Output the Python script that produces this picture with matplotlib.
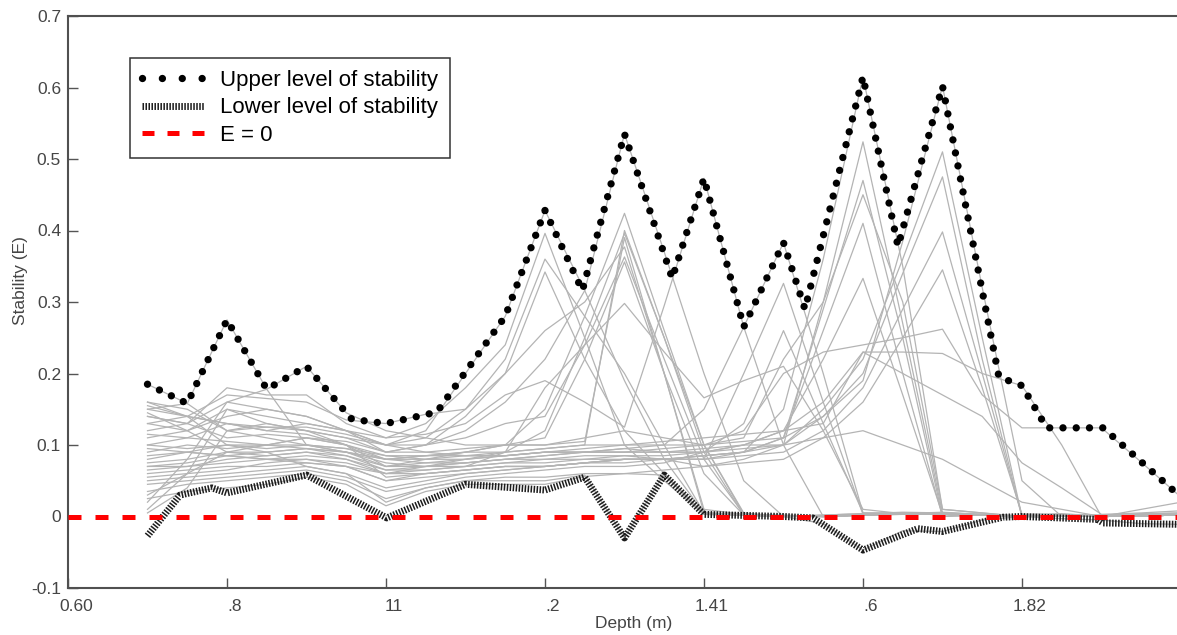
import matplotlib
matplotlib.use("Agg")
import matplotlib.pyplot as plt
from matplotlib.lines import Line2D
from matplotlib.transforms import ScaledTranslation

plt.rcParams['font.family'] = ['Liberation Sans', 'DejaVu Sans']

# Sampling depths of the individual stability profiles (m)
depth = [0.70, 0.75, 0.80, 0.85, 0.90, 0.95, 1.00, 1.05, 1.10, 1.15,
         1.20, 1.25, 1.30, 1.35, 1.40, 1.45, 1.50, 1.55, 1.60, 1.65,
         1.70, 1.75, 1.80, 1.85, 1.90, 1.95, 2.00]

# Individual stability profiles E(depth)
profiles = [
    [.155, .14, .13, .125, .12, .11, .10, .12, .20, .28, .428, .316, .19, .08, .005, .003, .002, .0, .003, .005, .004, .002, .0, .001, .0, .001, .002],
    [.09, .10, .095, .10, .11, .105, .09, .10, .12, .16, .22, .316, .535, .37, .20, .05, .0, .002, .004, .006, .005, .003, .0, .002, .0, .002, .003],
    [.13, .12, .15, .14, .13, .12, .11, .115, .13, .17, .19, .16, .125, .295, .473, .265, .10, .0, .003, .005, .004, .002, .0, .001, .0, .001, .002],
    [.07, .075, .085, .08, .085, .08, .06, .07, .075, .08, .085, .09, .095, .10, .15, .265, .383, .20, .005, .004, .006, .003, .0, .002, .001, .001, .002],
    [.06, .065, .07, .07, .075, .07, .05, .055, .06, .065, .07, .075, .08, .08, .085, .09, .15, .36, .615, .35, .01, .005, .0, .002, .0, .002, .003],
    [.01, .06, .15, .13, .12, .10, .07, .075, .08, .085, .09, .095, .10, .10, .10, .105, .11, .14, .19, .385, .602, .32, .05, .0, .002, .001, .003],
    [.16, .15, .12, .11, .10, .095, .085, .085, .085, .09, .095, .10, .10, .105, .11, .115, .12, .13, .23, .23, .228, .20, .183, .10, .0, .003, .005],
    [.145, .12, .09, .085, .09, .085, .07, .07, .075, .08, .085, .09, .09, .095, .10, .12, .20, .23, .24, .25, .262, .17, .124, .124, .124, .076, .027],
    [.185, .158, .12, .13, .12, .11, .09, .09, .095, .10, .10, .11, .12, .11, .10, .11, .22, .30, .45, .30, .01, .005, .0, .003, .002, .004, .005],
    [.15, .158, .275, .178, .10, .09, .08, .085, .09, .09, .095, .10, .40, .25, .10, .005, .0, .002, .004, .005, .004, .002, .0, .001, .0, .001, .002],
    [.14, .13, .16, .178, .21, .145, .12, .11, .10, .10, .10, .105, .39, .20, .01, .003, .001, .0, .002, .004, .003, .002, .0, .001, .0, .001, .002],
    [.13, .14, .17, .165, .16, .135, .13, .143, .15, .20, .26, .30, .377, .20, .005, .002, .0, .001, .003, .004, .003, .002, .0, .001, .0, .001, .002],
    [.12, .13, .18, .17, .17, .13, .11, .13, .18, .24, .396, .25, .10, .05, .003, .002, .0, .0, .002, .004, .003, .002, .0, .001, .0, .001, .002],
    [.11, .12, .14, .15, .14, .12, .10, .11, .15, .22, .36, .28, .20, .10, .005, .003, .001, .0, .002, .004, .003, .002, .0, .001, .0, .001, .002],
    [.10, .11, .13, .12, .13, .12, .09, .10, .14, .20, .342, .22, .12, .06, .004, .002, .001, .0, .002, .003, .003, .002, .0, .001, .0, .001, .002],
    [.08, .09, .10, .095, .10, .09, .07, .08, .09, .10, .15, .28, .424, .26, .10, .003, .001, .0, .002, .004, .003, .002, .0, .001, .0, .001, .002],
    [.075, .08, .09, .09, .095, .085, .065, .07, .08, .09, .12, .25, .396, .25, .09, .002, .0, .0, .002, .004, .003, .002, .0, .001, .0, .001, .002],
    [.02, .08, .16, .15, .14, .12, .10, .10, .11, .13, .14, .24, .363, .22, .08, .003, .001, .0, .002, .004, .003, .002, .0, .001, .0, .001, .002],
    [.03, .06, .09, .10, .11, .10, .08, .085, .09, .10, .11, .22, .356, .20, .06, .002, .0, .0, .002, .004, .003, .002, .0, .001, .0, .001, .002],
    [.095, .09, .085, .08, .075, .07, .06, .065, .07, .09, .18, .24, .298, .23, .166, .19, .21, .12, .01, .004, .003, .002, .0, .001, .0, .001, .002],
    [.05, .055, .06, .065, .07, .06, .04, .05, .06, .065, .07, .075, .08, .08, .08, .20, .326, .16, .003, .004, .003, .002, .0, .001, .0, .001, .002],
    [.045, .05, .055, .06, .065, .055, .035, .045, .055, .06, .065, .07, .07, .075, .09, .13, .26, .13, .005, .004, .003, .002, .0, .001, .0, .001, .002],
    [.115, .11, .105, .10, .095, .09, .08, .075, .075, .08, .08, .085, .085, .08, .07, .08, .10, .30, .524, .27, .005, .003, .0, .001, .0, .001, .002],
    [.085, .09, .085, .09, .095, .09, .075, .07, .07, .075, .075, .08, .08, .08, .08, .09, .11, .29, .47, .25, .0, .002, .0, .001, .0, .001, .002],
    [.065, .07, .075, .08, .08, .075, .06, .06, .065, .07, .07, .075, .08, .08, .085, .09, .11, .26, .41, .20, .0, .002, .0, .001, .0, .001, .002],
    [.14, .13, .11, .115, .11, .10, .085, .08, .08, .085, .09, .09, .095, .09, .09, .10, .12, .22, .333, .17, .003, .002, .0, .001, .0, .001, .002],
    [.005, .04, .12, .125, .125, .115, .10, .09, .085, .085, .09, .09, .09, .09, .095, .10, .10, .15, .22, .36, .51, .25, .0, .002, .0, .001, .002],
    [.055, .06, .065, .075, .08, .07, .05, .06, .065, .07, .07, .075, .08, .08, .085, .09, .10, .14, .20, .34, .475, .22, .0, .002, .0, .001, .002],
    [.15, .14, .13, .12, .115, .10, .055, .06, .065, .07, .07, .075, .075, .08, .08, .085, .09, .12, .18, .29, .398, .20, .0, .002, .0, .001, .002],
    [.035, .045, .05, .055, .06, .05, .025, .04, .05, .055, .055, .06, .06, .065, .07, .075, .08, .11, .16, .25, .345, .18, .003, .004, .0, .001, .002],
    [.16, .14, .10, .09, .07, .06, .02, .04, .05, .05, .05, .058, -.03, .06, .003, .002, .001, .0, .002, .003, .003, .002, .0, .001, .0, .001, .002],
    [.025, .035, .04, .045, .055, .045, .015, .035, .045, .045, .045, .056, .06, .058, .003, .002, .0, -.01, -.047, -.02, -.021, -.005, .0, -.003, -.005, -.01, -.011],
    [.07, .07, .08, .085, .09, .08, .065, .065, .07, .075, .08, .08, .085, .085, .09, .10, .12, .16, .23, .20, .17, .14, .075, .04, .003, .005, .008],
    [.10, .095, .10, .10, .10, .095, .08, .08, .085, .085, .09, .09, .09, .09, .09, .095, .10, .11, .12, .10, .08, .05, .02, .01, .0, .01, .02],
]

# Upper stability envelope
upper_depth = [0.70, 0.75, 0.80, 0.85, 0.90, 0.957, 1.00, 1.064, 1.15, 1.20,
               1.247, 1.30, 1.36, 1.40, 1.45, 1.50, 1.527, 1.60, 1.644, 1.70,
               1.771, 1.80, 1.831, 1.902, 2.00]
upper_e = [0.185, 0.158, 0.275, 0.178, 0.21, 0.136, 0.13, 0.146, 0.28, 0.428,
           0.316, 0.535, 0.333, 0.473, 0.265, 0.383, 0.29, 0.615, 0.378, 0.602,
           0.195, 0.183, 0.124, 0.124, 0.027]

# Lower stability envelope
lower_depth = [0.70, 0.741, 0.781, 0.80, 0.90, 1.001, 1.10, 1.20, 1.25, 1.30,
               1.35, 1.40, 1.50, 1.537, 1.60, 1.669, 1.70, 1.776, 1.80, 1.895,
               1.902, 2.00]
lower_e = [-0.027, 0.03, 0.04, 0.033, 0.058, -0.002, 0.045, 0.037, 0.055, -0.03,
           0.058, 0.003, 0.0, -0.002, -0.047, -0.017, -0.021, -0.001, 0.0, -0.004,
           -0.009, -0.011]

xtick_pos = [0.60, 0.80, 1.00, 1.20, 1.40, 1.60, 1.80]
xtick_labels = ['0.60', '.8', '11', '.2', '1.41', '.6', '1.82']
ytick_pos = [-0.1, 0.0, 0.1, 0.2, 0.3, 0.4, 0.5, 0.6, 0.7]
ytick_labels = ['-0.1', '0', '0.1', '0.2', '0.3', '0.4', '0.5', '0.6', '0.7']

W, H = 1177, 635
fig = plt.figure(figsize=(W / 100, H / 100), dpi=100)
ax = fig.add_axes([68 / W, 47 / H, 1109 / W, 572 / H])

grey = '#b4b4b4'
for p in profiles:
    ax.plot(depth, p, color=grey, lw=0.9, zorder=1)

upper_style = dict(color='black', lw=5.3, linestyle=(0, (0.001, 1.8)),
                   dash_capstyle='round')
lower_style = dict(color='#1c1c1c', lw=5, linestyle=(0, (0.22, 0.21)),
                   dash_capstyle='butt')
zero_style = dict(color='#ff0000', lw=3.6, linestyle=(0, (2.6, 2.8)),
                  dash_capstyle='butt')

ax.plot(upper_depth, upper_e, zorder=3, **upper_style)
ax.plot(lower_depth, lower_e, zorder=3, **lower_style)
ax.axhline(0, zorder=4, **zero_style)

ax.set_xlim(0.60, 1.995)
ax.set_ylim(-0.1, 0.7)

text_col = '#454545'
ax.set_xticks(xtick_pos)
ax.set_xticklabels(xtick_labels)
ax.set_yticks(ytick_pos)
ax.set_yticklabels(ytick_labels)
ax.tick_params(direction='in', length=7, width=1.0, color='#555555',
               labelcolor=text_col, labelsize=12.5)
ax.tick_params(axis='x', pad=8)
ax.tick_params(axis='y', pad=5)
shift = ScaledTranslation(8 / 100, 0, fig.dpi_scale_trans)
for lbl in ax.get_xticklabels():
    lbl.set_transform(lbl.get_transform() + shift)

for side in ('left', 'bottom', 'top'):
    ax.spines[side].set_color('#505050')
    ax.spines[side].set_linewidth(1.5)
ax.spines['right'].set_visible(False)

ax.set_xlabel('Depth (m)', fontsize=12.5, color=text_col)
ax.xaxis.set_label_coords(0.51, -0.049)
ax.set_ylabel('Stability (E)', fontsize=12.5, color=text_col)
ax.yaxis.set_label_coords(-0.036, 0.537)

handles = [
    Line2D([], [], color='black', lw=5.3, linestyle=(0, (0.001, 2.7)), dash_capstyle='round'),
    Line2D([], [], color='#1c1c1c', lw=5, linestyle=(0, (0.22, 0.21)), dash_capstyle='butt'),
    Line2D([], [], color='#ff0000', lw=3.6, linestyle=(0, (2.4, 2.6)), dash_capstyle='butt'),
]
labels = ['Upper level of stability', 'Lower level of stability', 'E = 0']
leg = ax.legend(handles, labels, loc='upper left',
                bbox_to_anchor=(130 / W, 1 - 58 / H), bbox_transform=fig.transFigure,
                borderaxespad=0, fontsize=16, handlelength=2.8, handletextpad=0.68,
                borderpad=0.55, labelspacing=0.28, fancybox=False, framealpha=1)
leg.get_frame().set_edgecolor('#333333')
leg.get_frame().set_linewidth(1.1)

fig.savefig('out.png', dpi=100)
